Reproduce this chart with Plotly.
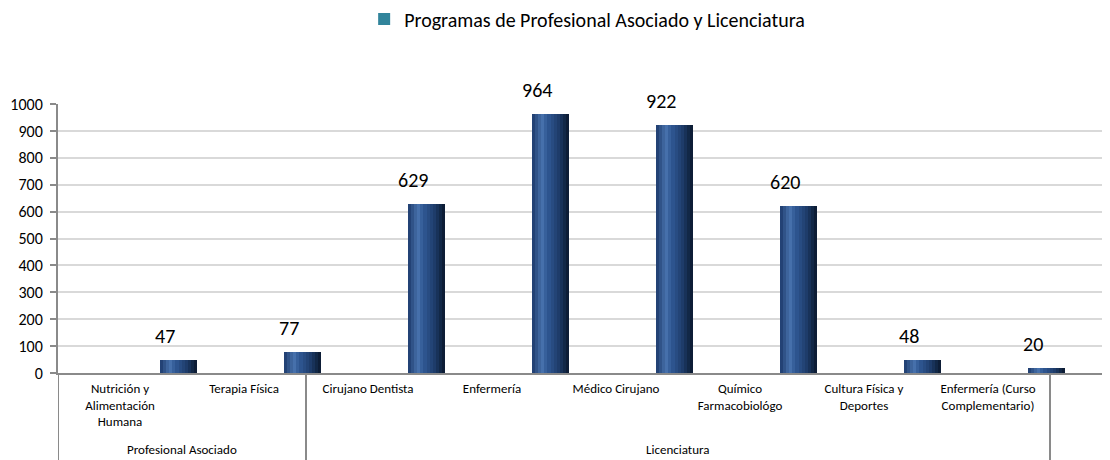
import plotly.graph_objects as go

# ---------------- data ----------------
group_names = ["Profesional Asociado", "Licenciatura"]
group_sizes = [2, 6]
programs = [
    "Nutrición y<br>Alimentación<br>Humana",
    "Terapia Física",
    "Cirujano Dentista",
    "Enfermería",
    "Médico Cirujano",
    "Químico<br>Farmacobiológo",
    "Cultura Física y<br>Deportes",
    "Enfermería (Curso<br>Complementario)",
]
values = [47, 77, 629, 964, 922, 620, 48, 20]
series_name = "Programas de Profesional Asociado y Licenciatura"

# ---------------- style ----------------
FONT = "Carlito, Lato, sans-serif"
AXIS_GRAY = "#8a8a8a"
GRID = "#d9d9d9"
LEGEND_COLOR = "#31849b"
BAR_CENTER = 0.472   # bar centre offset within category slot
BAR_W = 0.298
LABEL_DX = 0.365

idx = list(range(len(programs)))

# colour stops for horizontal cylinder shading
stops = [(0.0, (0x1c, 0x3a, 0x6b)), (0.28, (0x48, 0x72, 0xad)),
         (0.42, (0x2f, 0x58, 0x93)), (0.72, (0x1d, 0x3b, 0x68)),
         (1.0, (0x0a, 0x18, 0x2d))]


def shade(t):
    for (t0, c0), (t1, c1) in zip(stops[:-1], stops[1:]):
        if t0 <= t <= t1:
            f = (t - t0) / (t1 - t0)
            c = [round(a + (b - a) * f) for a, b in zip(c0, c1)]
            return "rgb(%d,%d,%d)" % tuple(c)
    return "rgb(%d,%d,%d)" % stops[-1][1]


fig = go.Figure()

# base series (gives legend swatch)
fig.add_trace(go.Bar(
    x=idx, y=values, name=series_name, width=BAR_W,
    offset=BAR_CENTER - BAR_W / 2,
    marker=dict(color=LEGEND_COLOR, line=dict(width=0)),
    hoverinfo="skip", showlegend=True,
))

N = 12
sw = BAR_W / N
for k in range(N):
    fig.add_trace(go.Bar(
        x=idx, y=values, width=sw,
        offset=BAR_CENTER - BAR_W / 2 + k * sw,
        marker=dict(color=shade((k + 0.5) / N), line=dict(width=0)),
        showlegend=False, hoverinfo="skip",
    ))

annotations = []
for i, v in zip(idx, values):
    annotations.append(dict(
        x=i + LABEL_DX, y=v, xref="x", yref="y", text=str(v),
        showarrow=False, yanchor="bottom", yshift=10,
        font=dict(family=FONT, size=20, color="#000000"),
    ))

shapes = []
start = 0
bounds = [-0.5]
for name, size in zip(group_names, group_sizes):
    center = start + (size - 1) / 2
    annotations.append(dict(
        x=center, y=0, xref="x", yref="paper", text=name, showarrow=False,
        yanchor="middle", yshift=-76,
        font=dict(family=FONT, size=13, color="#000000"),
    ))
    start += size
    bounds.append(start - 0.5)
for b in bounds:
    shapes.append(dict(type="line", xref="x", yref="paper", x0=b, x1=b,
                       y0=0, y1=-0.33, line=dict(color=AXIS_GRAY, width=2)))

# page body has an 8px margin, so the figure is 8px smaller and margins shifted
fig.update_layout(
    width=1102, height=452,
    margin=dict(l=50, r=0, t=96, b=87, autoexpand=False),
    paper_bgcolor="white", plot_bgcolor="white",
    barmode="overlay", bargap=0,
    font=dict(family=FONT, color="#000000"),
    legend=dict(orientation="h", x=0.503, xanchor="center", y=1.316,
                yanchor="middle", font=dict(family=FONT, size=20),
                itemwidth=30),
    annotations=annotations, shapes=shapes,
    xaxis=dict(range=[-0.5, 7.984], tickvals=idx, ticktext=programs,
               ticks="", showgrid=False, showline=True, linecolor=AXIS_GRAY,
               linewidth=2, zeroline=False, automargin=False,
               ticklabelstandoff=2,
               tickfont=dict(family=FONT, size=13, color="#000000")),
    yaxis=dict(range=[0, 1000], dtick=100, ticks="outside", ticklen=6,
               tickcolor=AXIS_GRAY, tickwidth=2, showline=True,
               linecolor=AXIS_GRAY, linewidth=2, gridcolor=GRID, gridwidth=2,
               zeroline=False, automargin=False, ticklabelstandoff=4,
               tickfont=dict(family=FONT, size=16, color="#000000")),
)

fig.write_html("out.html")
